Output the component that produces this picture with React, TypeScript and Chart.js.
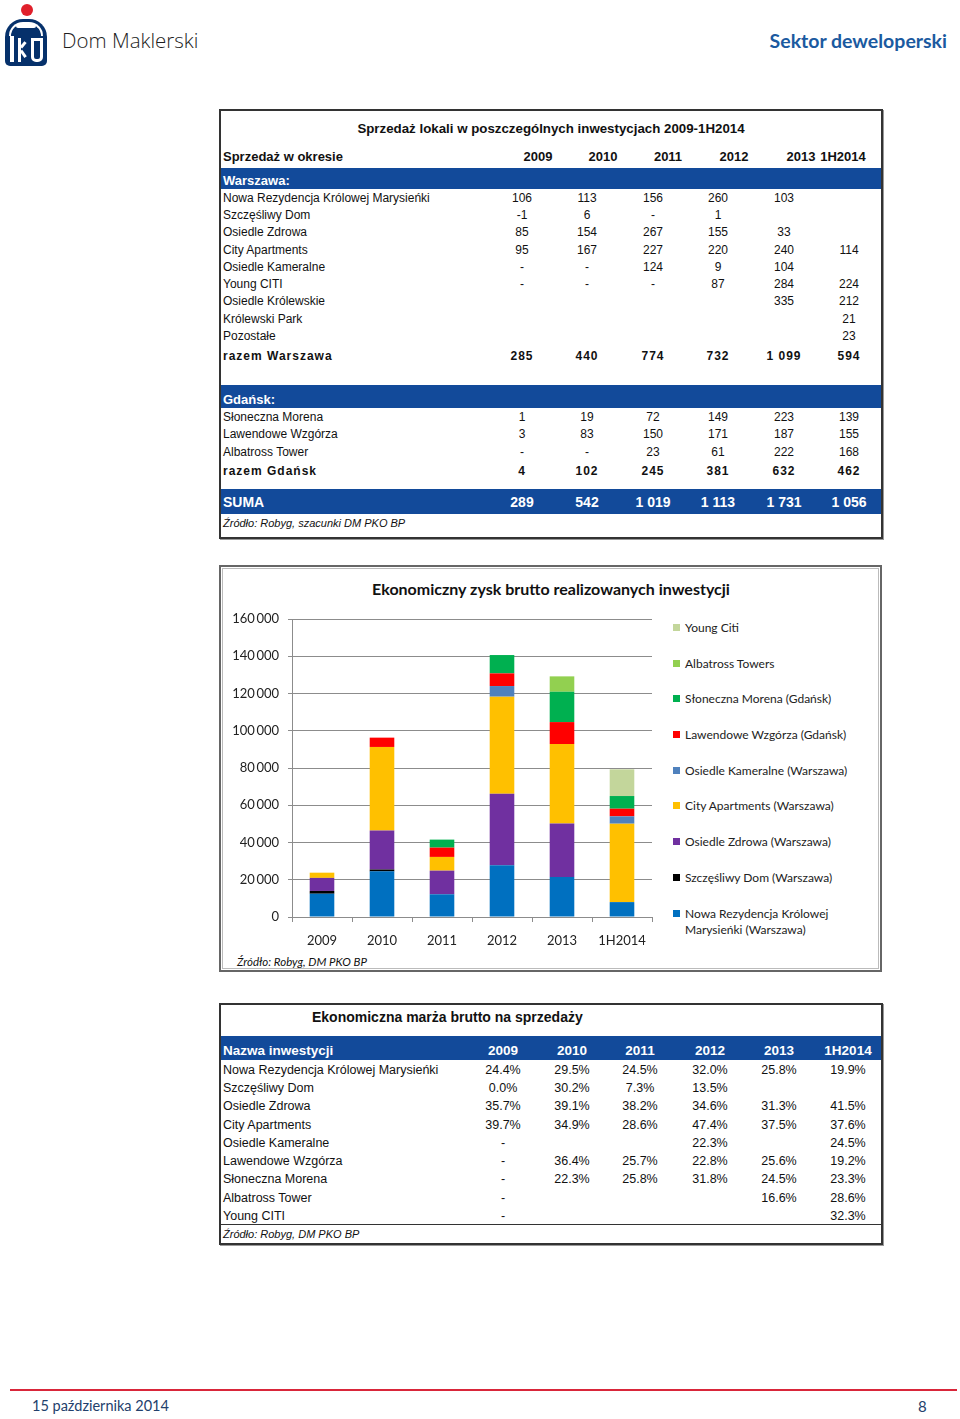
import React, { useEffect, useRef } from "react";
import { Chart, registerables } from "chart.js";

Chart.register(...registerables);

// ---------- Chart data ----------
const categories = ["2009", "2010", "2011", "2012", "2013", "1H2014"];
const seriesNames = [
  "Nowa Rezydencja Królowej Marysieńki (Warszawa)",
  "Szczęśliwy Dom (Warszawa)",
  "Osiedle Zdrowa (Warszawa)",
  "City Apartments (Warszawa)",
  "Osiedle Kameralne (Warszawa)",
  "Lawendowe Wzgórza (Gdańsk)",
  "Słoneczna Morena (Gdańsk)",
  "Albatross Towers",
  "Young Citi",
];
const seriesColors = ["#0070C0", "#000000", "#7030A0", "#FFC000", "#4F81BD", "#FF0000", "#00B050", "#92D050", "#C3D69B"];
const nowaRezydencja = [12500, 24500, 12200, 27800, 21500, 8000];
const szczesliwyDom = [1500, 1000, 0, 0, 0, 0];
const osiedleZdrowa = [7000, 21000, 12700, 38350, 28700, 0];
const cityApartments = [2800, 44800, 7350, 52150, 42650, 42100];
const osiedleKameralne = [0, 0, 0, 5700, 0, 3950];
const lawendoweWzgorza = [0, 5000, 5000, 6800, 11800, 4100];
const slonecznaMorena = [0, 0, 4300, 9850, 16300, 6800];
const albatrossTowers = [0, 0, 0, 0, 8250, 0];
const youngCiti = [0, 0, 0, 0, 0, 14350];
const seriesValues = [nowaRezydencja, szczesliwyDom, osiedleZdrowa, cityApartments, osiedleKameralne, lawendoweWzgorza, slonecznaMorena, albatrossTowers, youngCiti];
const yTicks = [0, 20000, 40000, 60000, 80000, 100000, 120000, 140000, 160000];

// ---------- Table 1 data ----------
const salesYears = ["2009", "2010", "2011", "2012", "2013", "1H2014"];
const warsawNames = ["Nowa Rezydencja Królowej Marysieńki", "Szczęśliwy Dom", "Osiedle Zdrowa", "City Apartments", "Osiedle Kameralne", "Young CITI", "Osiedle Królewskie", "Królewski Park", "Pozostałe"];
const warsawSales = [
  ["106", "113", "156", "260", "103", ""],
  ["-1", "6", "-", "1", "", ""],
  ["85", "154", "267", "155", "33", ""],
  ["95", "167", "227", "220", "240", "114"],
  ["-", "-", "124", "9", "104", ""],
  ["-", "-", "-", "87", "284", "224"],
  ["", "", "", "", "335", "212"],
  ["", "", "", "", "", "21"],
  ["", "", "", "", "", "23"],
];
const warsawTotal = ["285", "440", "774", "732", "1 099", "594"];
const gdanskNames = ["Słoneczna Morena", "Lawendowe Wzgórza", "Albatross Tower"];
const gdanskSales = [
  ["1", "19", "72", "149", "223", "139"],
  ["3", "83", "150", "171", "187", "155"],
  ["-", "-", "23", "61", "222", "168"],
];
const gdanskTotal = ["4", "102", "245", "381", "632", "462"];
const sumTotal = ["289", "542", "1 019", "1 113", "1 731", "1 056"];

// ---------- Table 3 data ----------
const marginNames = ["Nowa Rezydencja Królowej Marysieńki", "Szczęśliwy Dom", "Osiedle Zdrowa", "City Apartments", "Osiedle Kameralne", "Lawendowe Wzgórza", "Słoneczna Morena", "Albatross Tower", "Young CITI"];
const marginValues = [
  ["24.4%", "29.5%", "24.5%", "32.0%", "25.8%", "19.9%"],
  ["0.0%", "30.2%", "7.3%", "13.5%", "", ""],
  ["35.7%", "39.1%", "38.2%", "34.6%", "31.3%", "41.5%"],
  ["39.7%", "34.9%", "28.6%", "47.4%", "37.5%", "37.6%"],
  ["-", "", "", "22.3%", "", "24.5%"],
  ["-", "36.4%", "25.7%", "22.8%", "25.6%", "19.2%"],
  ["-", "22.3%", "25.8%", "31.8%", "24.5%", "23.3%"],
  ["-", "", "", "", "16.6%", "28.6%"],
  ["-", "", "", "", "", "32.3%"],
];

const ARIAL = "'Liberation Sans', Arial, sans-serif";
const CAL = "Lato, 'Open Sans', sans-serif";
const BAND = "#124A9A";

type TP = { x: number; y: number; c?: boolean; r?: boolean; s?: React.CSSProperties; children?: React.ReactNode };
function T({ x, y, c, r, s, children }: TP) {
  return (
    <div
      style={{
        position: "absolute",
        left: x,
        top: y + 1,
        transform: c ? "translate(-50%,-50%)" : r ? "translate(-100%,-50%)" : "translateY(-50%)",
        whiteSpace: "nowrap",
        lineHeight: 1.15,
        ...s,
      }}
    >
      {children}
    </div>
  );
}

const fmt = (v: number) => String(v).replace(/\B(?=(\d{3})+(?!\d))/g, "\u2009");

function BarChart() {
  const ref = useRef<HTMLCanvasElement | null>(null);
  useEffect(() => {
    if (!ref.current) return;
    const chart = new Chart(ref.current, {
      type: "bar",
      data: {
        labels: categories,
        datasets: seriesNames.map((n, i) => ({
          label: n,
          data: seriesValues[i],
          backgroundColor: seriesColors[i],
          borderWidth: 0,
          categoryPercentage: 1,
          barPercentage: 0.41,
        })),
      },
      options: {
        responsive: false,
        animation: false,
        layout: { padding: { top: 19, right: 10, left: 0, bottom: 0 } },
        plugins: { legend: { display: false }, tooltip: { enabled: false }, title: { display: false } },
        scales: {
          x: {
            stacked: true,
            grid: { drawOnChartArea: false, drawTicks: true, tickLength: 5, color: "#8c8c8c", offset: true },
            border: { color: "#8c8c8c" },
            ticks: { color: "#222", font: { family: CAL, size: 13 }, padding: 11 },
            afterFit: (s: any) => {
              s.height = 38;
            },
          },
          y: {
            stacked: true,
            min: 0,
            max: 160000,
            afterBuildTicks: (s: any) => {
              s.ticks = yTicks.map((v) => ({ value: v }));
            },
            grid: { color: "#8c8c8c", tickLength: 4 },
            border: { color: "#8c8c8c" },
            ticks: { color: "#222", font: { family: CAL, size: 13 }, padding: 9, callback: (v: any) => fmt(Number(v)) },
            afterFit: (s: any) => {
              s.width = 70;
            },
          },
        },
      },
    });
    return () => chart.destroy();
  }, []);
  return <canvas ref={ref} width={440} height={355} style={{ position: "absolute", left: 222, top: 600, width: 440, height: 355 }} />;
}

const t1Cols = [522, 587, 653, 718, 784, 849];
const t1HeadX = [538, 603, 668, 734, 801, 843];
const t3Cols = [503, 572, 640, 710, 779, 848];

export default function App() {
  const legendYs = [627, 663, 698, 734, 770, 805, 841, 877, 913];
  const legendOrder = seriesNames.map((_, i) => seriesNames.length - 1 - i);
  const wRows = [198, 215, 232, 250, 267, 284, 301, 319, 336];
  const gRows = [417, 434, 452];
  const mRows = [1069, 1087, 1105, 1124, 1142, 1160, 1178, 1197, 1215];
  const rowFont: React.CSSProperties = { fontFamily: ARIAL, fontSize: 12, color: "#111" };
  const boldSpaced: React.CSSProperties = { fontFamily: ARIAL, fontSize: 12, fontWeight: "bold", letterSpacing: 1, color: "#111" };
  return (
    <div style={{ position: "absolute", left: 0, top: 0, width: 960, height: 1419, background: "#fff", overflow: "hidden" }}>
      {/* Header logo */}
      <div style={{ position: "absolute", left: 21, top: 4, width: 12, height: 12, borderRadius: 6, background: "#E0202B" }} />
      <div style={{ position: "absolute", left: 5, top: 19, width: 42, height: 47, background: "#06316B", borderRadius: "18px 18px 5px 5px" }} />
      <div style={{ position: "absolute", left: 16, top: 24, width: 20, height: 4, background: "#fff", borderRadius: 2 }} />
      <div style={{ position: "absolute", left: 9, top: 22, width: 34, height: 14, borderTop: "2px solid #fff", borderLeft: "2px solid #fff", borderRight: "2px solid #fff", borderRadius: "15px 15px 0 0", boxSizing: "border-box" }} />
      <div style={{ position: "absolute", left: 10, top: 36, width: 4, height: 26, background: "#fff" }} />
      <div style={{ position: "absolute", left: 18, top: 38, width: 3, height: 24, background: "#fff" }} />
      <div style={{ position: "absolute", left: 21, top: 46, width: 7, height: 3, background: "#fff", transform: "rotate(-50deg)", transformOrigin: "left center" }} />
      <div style={{ position: "absolute", left: 21, top: 49, width: 8, height: 3, background: "#fff", transform: "rotate(55deg)", transformOrigin: "left center" }} />
      <div style={{ position: "absolute", left: 31, top: 38, width: 12, height: 24, border: "3px solid #fff", borderRadius: "0 0 5px 5px", boxSizing: "border-box" }} />
      <T x={62} y={40} s={{ fontFamily: "'Open Sans', sans-serif", fontWeight: 300, fontSize: 20.5, color: "#1d1d1d" }}>Dom Maklerski</T>
      <T x={947} y={40} r s={{ fontFamily: CAL, fontWeight: "bold", fontSize: 19.5, color: "#1B5AA0" }}>Sektor deweloperski</T>

      {/* Table 1 */}
      <div style={{ position: "absolute", left: 219, top: 109, width: 660, height: 426, border: "2px solid #333", boxShadow: "1px 1px 0 #999" }} />
      <T x={551} y={128} c s={{ fontFamily: ARIAL, fontSize: 13.3, fontWeight: "bold", color: "#111" }}>Sprzedaż lokali w poszczególnych inwestycjach 2009-1H2014</T>
      <T x={223} y={156} s={{ fontFamily: ARIAL, fontSize: 13, fontWeight: "bold", color: "#111" }}>Sprzedaż w okresie</T>
      {salesYears.map((yv, i) => (
        <T key={"h" + i} x={t1HeadX[i]} y={156} c s={{ fontFamily: ARIAL, fontSize: 13, fontWeight: "bold", color: "#111" }}>{yv}</T>
      ))}
      <div style={{ position: "absolute", left: 221, top: 168, width: 660, height: 21, background: BAND }} />
      <T x={223} y={180} s={{ fontFamily: ARIAL, fontSize: 13, color: "#fff", fontWeight: 600 }}>Warszawa:</T>
      {warsawNames.map((n, r) => (
        <React.Fragment key={"w" + r}>
          <T x={223} y={wRows[r]} s={rowFont}>{n}</T>
          {warsawSales[r].map((v, i) => (v ? <T key={i} x={t1Cols[i]} y={wRows[r]} c s={rowFont}>{v}</T> : null))}
        </React.Fragment>
      ))}
      <T x={223} y={356} s={boldSpaced}>razem Warszawa</T>
      {warsawTotal.map((v, i) => (
        <T key={"wt" + i} x={t1Cols[i]} y={356} c s={boldSpaced}>{v}</T>
      ))}
      <div style={{ position: "absolute", left: 221, top: 385, width: 660, height: 23, background: BAND }} />
      <T x={223} y={399} s={{ fontFamily: ARIAL, fontSize: 13, color: "#fff", fontWeight: 600 }}>Gdańsk:</T>
      {gdanskNames.map((n, r) => (
        <React.Fragment key={"g" + r}>
          <T x={223} y={gRows[r]} s={rowFont}>{n}</T>
          {gdanskSales[r].map((v, i) => (v ? <T key={i} x={t1Cols[i]} y={gRows[r]} c s={rowFont}>{v}</T> : null))}
        </React.Fragment>
      ))}
      <T x={223} y={471} s={boldSpaced}>razem Gdańsk</T>
      {gdanskTotal.map((v, i) => (
        <T key={"gt" + i} x={t1Cols[i]} y={471} c s={boldSpaced}>{v}</T>
      ))}
      <div style={{ position: "absolute", left: 221, top: 489, width: 660, height: 25, background: BAND }} />
      <T x={223} y={501} s={{ fontFamily: ARIAL, fontSize: 14, color: "#fff", fontWeight: "bold" }}>SUMA</T>
      {sumTotal.map((v, i) => (
        <T key={"s" + i} x={t1Cols[i]} y={501} c s={{ fontFamily: ARIAL, fontSize: 14, color: "#fff", fontWeight: "bold" }}>{v}</T>
      ))}
      <T x={223} y={522} s={{ fontFamily: ARIAL, fontSize: 11, fontStyle: "italic", color: "#111" }}>Źródło: Robyg, szacunki DM PKO BP</T>

      {/* Chart box */}
      <div style={{ position: "absolute", left: 219, top: 565, width: 659, height: 403, border: "2px solid #666", outline: "1px solid #bbb", outlineOffset: -4 }} />
      <T x={551} y={588} c s={{ fontFamily: CAL, fontSize: 16, fontWeight: "bold", color: "#111" }}>Ekonomiczny zysk brutto realizowanych inwestycji</T>
      <BarChart />
      {legendOrder.map((idx, k) => {
        const name = seriesNames[idx];
        const wrap = idx === 0;
        return (
          <div key={"l" + k} style={{ position: "absolute", left: 673, top: legendYs[k] - 7, fontFamily: CAL, fontSize: 12, color: "#222", lineHeight: "16px", width: 190 }}>
            <span style={{ position: "absolute", left: 0, top: 4, width: 7, height: 7, background: seriesColors[idx] }} />
            <div style={{ marginLeft: 12, whiteSpace: wrap ? "normal" : "nowrap", width: wrap ? 150 : undefined }}>{name}</div>
          </div>
        );
      })}
      <T x={237} y={961} s={{ fontFamily: CAL, fontSize: 11.5, fontStyle: "italic", color: "#111" }}>Źródło: Robyg, DM PKO BP</T>

      {/* Table 3 */}
      <div style={{ position: "absolute", left: 219, top: 1003, width: 660, height: 238, border: "2px solid #333", boxShadow: "1px 1px 0 #999" }} />
      <T x={312} y={1016} s={{ fontFamily: ARIAL, fontSize: 14, fontWeight: "bold", color: "#111" }}>Ekonomiczna marża brutto na sprzedaży</T>
      <div style={{ position: "absolute", left: 221, top: 1036, width: 660, height: 24, background: BAND }} />
      <T x={223} y={1050} s={{ fontFamily: ARIAL, fontSize: 13.5, fontWeight: "bold", color: "#fff" }}>Nazwa inwestycji</T>
      {salesYears.map((yv, i) => (
        <T key={"mh" + i} x={t3Cols[i]} y={1050} c s={{ fontFamily: ARIAL, fontSize: 13.5, fontWeight: "bold", color: "#fff" }}>{yv}</T>
      ))}
      {marginNames.map((n, r) => (
        <React.Fragment key={"m" + r}>
          <T x={223} y={mRows[r]} s={{ ...rowFont, fontSize: 12.5 }}>{n}</T>
          {marginValues[r].map((v, i) => (v ? <T key={i} x={t3Cols[i]} y={mRows[r]} c s={{ ...rowFont, fontSize: 12.5 }}>{v}</T> : null))}
        </React.Fragment>
      ))}
      <div style={{ position: "absolute", left: 221, top: 1224, width: 660, height: 1, background: "#333" }} />
      <T x={223} y={1233} s={{ fontFamily: ARIAL, fontSize: 11, fontStyle: "italic", color: "#111" }}>Źródło: Robyg, DM PKO BP</T>

      {/* Footer */}
      <div style={{ position: "absolute", left: 10, top: 1389, width: 947, height: 2, background: "#D9263A" }} />
      <T x={32} y={1405} s={{ fontFamily: CAL, fontSize: 14.5, color: "#23406C" }}>15 października 2014</T>
      <T x={918} y={1406} s={{ fontFamily: CAL, fontSize: 15, color: "#23406C" }}>8</T>
    </div>
  );
}
